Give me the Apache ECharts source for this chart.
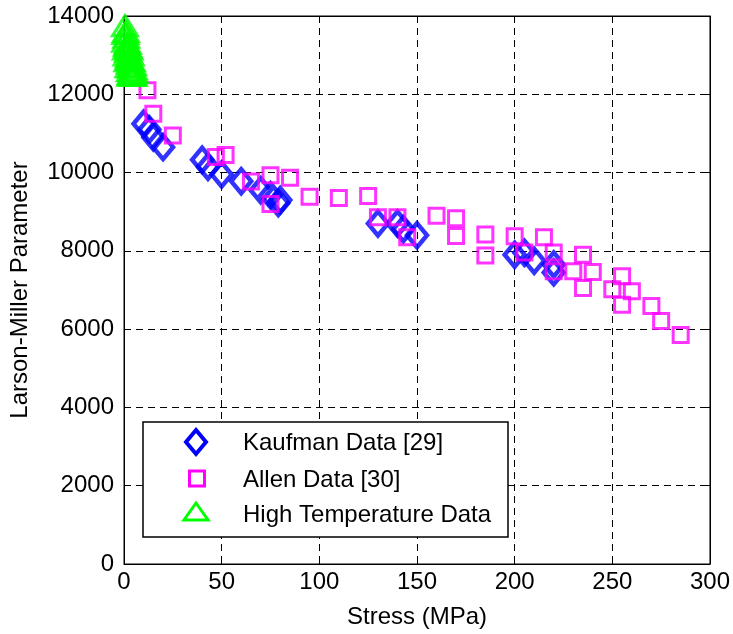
<!DOCTYPE html>
<html>
<head>
<meta charset="utf-8">
<script src="https://cdn.jsdelivr.net/npm/echarts@6/dist/echarts.min.js"></script>
<style>
html,body{margin:0;padding:0;background:#fff;}
#chart{width:733px;height:634px;}
</style>
</head>
<body>
<div id="chart"></div>
<script>
// ---- data ----
const xTicks = [0, 50, 100, 150, 200, 250, 300];
const yTicks = [0, 2000, 4000, 6000, 8000, 10000, 12000, 14000];

const seriesNames = ['Kaufman Data [29]', 'Allen Data [30]', 'High Temperature Data'];

const kaufmanData = [
  [10, 11250], [13, 11100], [15, 10900], [20, 10650],
  [40, 10330], [43, 10150], [50, 9950], [60, 9780], [70, 9550], [75, 9420], [80, 9300], [79, 9220],
  [130, 8700], [140, 8700], [143, 8550], [150, 8400],
  [200, 7900], [205, 7950], [210, 7750], [220, 7650], [220, 7450]
];

const allenData = [
  [12, 12100], [15, 11500], [25, 10950], [47, 10400], [52, 10450],
  [65, 9770], [75, 9930], [75, 9200], [85, 9870], [95, 9380],
  [110, 9350], [125, 9400], [130, 8860], [140, 8860], [145, 8350],
  [160, 8900], [170, 8830], [170, 8380], [185, 8420], [185, 7880],
  [200, 8370], [205, 7960], [215, 8350], [220, 7960], [220, 7480],
  [230, 7480], [235, 7900], [235, 7050], [240, 7460], [250, 7020],
  [255, 7350], [255, 6620], [260, 6970], [270, 6590], [275, 6210], [285, 5850]
];

const highTempData = [
  [0.5, 13750], [0.7, 13550], [1.2, 13450], [0.6, 13350], [1.5, 13250],
  [2.0, 13300], [1.0, 13150], [2.2, 13100], [2.8, 13150], [1.3, 13000],
  [2.5, 12950], [3.4, 13000], [1.8, 12850], [3.0, 12800], [4.0, 12850],
  [2.3, 12700], [3.5, 12700], [4.6, 12750], [3.0, 12600], [4.0, 12600],
  [5.0, 12650], [3.5, 12520], [4.5, 12520], [5.5, 12550], [3.2, 12480],
  [5.0, 12480], [2.3, 13200], [1.0, 13600], [2.8, 12900], [4.2, 12480]
];

// ---- chart ----
const FONT = "'Liberation Sans', Arial, Helvetica, sans-serif";
const chart = echarts.init(document.getElementById('chart'), null, {renderer: 'canvas'});

const colors = ['#0000ff', '#ff00ff', '#00ff00'];
const gridLine = {show: true, lineStyle: {color: '#000', width: 1, type: [7, 5]}};
const txt = {fontFamily: FONT, fontSize: 24, fill: '#000', verticalAlign: 'middle', align: 'left'};

const option = {
  animation: false,
  backgroundColor: '#fff',
  grid: {left: 122, right: 23, top: 16, bottom: 68, show: true, borderColor: '#000', borderWidth: 1, backgroundColor: 'transparent'},
  xAxis: [{
    type: 'value', min: xTicks[0], max: xTicks[xTicks.length - 1], interval: 50,
    name: 'Stress (MPa)', nameLocation: 'middle', nameGap: 41,
    nameTextStyle: {fontFamily: FONT, fontSize: 24, color: '#000'},
    axisLine: {show: true, onZero: false, lineStyle: {color: '#000', width: 1}},
    axisTick: {show: true, inside: true, length: 6, lineStyle: {color: '#000'}},
    axisLabel: {fontFamily: FONT, fontSize: 24, color: '#000', margin: 6, formatter: v => String(v)},
    splitLine: gridLine
  }, {
    type: 'value', position: 'top', min: xTicks[0], max: xTicks[xTicks.length - 1], interval: 50,
    axisLine: {show: true, onZero: false, lineStyle: {color: '#000', width: 1}},
    axisTick: {show: true, inside: true, length: 6, lineStyle: {color: '#000'}},
    axisLabel: {show: false}, splitLine: {show: false}
  }],
  yAxis: [{
    type: 'value', min: yTicks[0], max: yTicks[yTicks.length - 1], interval: 2000,
    name: 'Larson-Miller Parameter', nameLocation: 'middle', nameGap: 92,
    nameTextStyle: {fontFamily: FONT, fontSize: 24, color: '#000'},
    axisLine: {show: true, onZero: false, lineStyle: {color: '#000', width: 1}},
    axisTick: {show: true, inside: true, length: 6, lineStyle: {color: '#000'}},
    axisLabel: {fontFamily: FONT, fontSize: 24, color: '#000', margin: 10, formatter: v => String(v)},
    splitLine: gridLine
  }, {
    type: 'value', position: 'right', min: yTicks[0], max: yTicks[yTicks.length - 1], interval: 2000,
    axisLine: {show: true, onZero: false, lineStyle: {color: '#000', width: 1}},
    axisTick: {show: true, inside: true, length: 6, lineStyle: {color: '#000'}},
    axisLabel: {show: false}, splitLine: {show: false}
  }],
  graphic: [
    {type: 'rect', z: 5, shape: {x: 143, y: 422, width: 365, height: 115},
     style: {fill: '#fff', stroke: '#000', lineWidth: 1.5}},
    {type: 'polygon', z: 6, shape: {points: [[196, 430], [206, 442], [196, 454], [186, 442]]},
     style: {fill: 'none', stroke: colors[0], lineWidth: 4}},
    {type: 'text', z: 6, x: 243, y: 443, style: Object.assign({text: seriesNames[0]}, txt)},
    {type: 'rect', z: 6, shape: {x: 189.5, y: 471, width: 15, height: 15},
     style: {fill: 'none', stroke: colors[1], lineWidth: 3}},
    {type: 'text', z: 6, x: 243, y: 480, style: Object.assign({text: seriesNames[1]}, txt)},
    {type: 'polygon', z: 6, shape: {points: [[196, 503], [208, 520], [184, 520]]},
     style: {fill: 'none', stroke: colors[2], lineWidth: 3}},
    {type: 'text', z: 6, x: 243, y: 515, style: Object.assign({text: seriesNames[2]}, txt)}
  ],
  series: [{
    name: seriesNames[0], type: 'scatter', data: kaufmanData,
    symbol: 'diamond', symbolSize: [20, 24],
    itemStyle: {color: 'rgba(0,0,0,0)', borderColor: colors[0], borderWidth: 4.5}
  }, {
    name: seriesNames[1], type: 'scatter', data: allenData,
    symbol: 'rect', symbolSize: 15,
    itemStyle: {color: 'rgba(0,0,0,0)', borderColor: colors[1], borderWidth: 3}
  }, {
    name: seriesNames[2], type: 'scatter', data: highTempData,
    symbol: 'triangle', symbolSize: [25, 20],
    itemStyle: {color: 'rgba(0,0,0,0)', borderColor: colors[2], borderWidth: 3}
  }]
};
chart.setOption(option);
</script>
</body>
</html>
